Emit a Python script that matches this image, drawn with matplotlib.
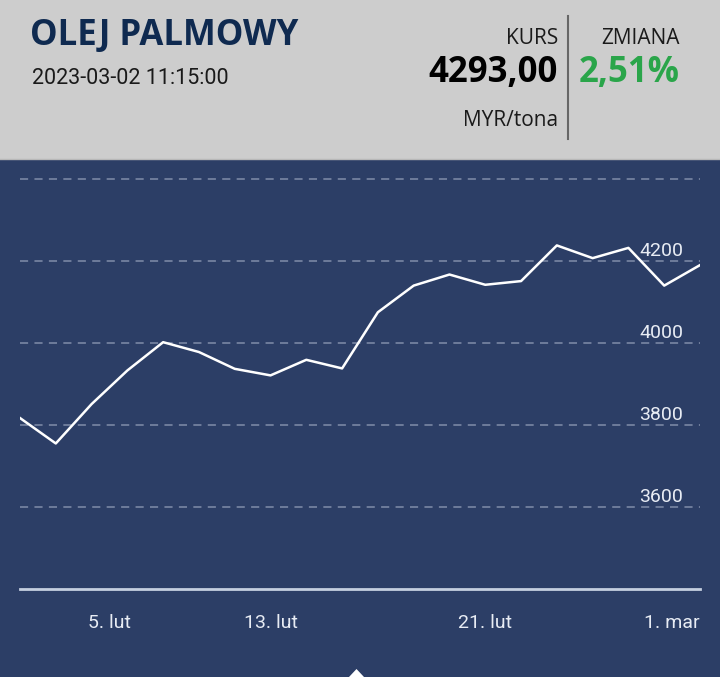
import matplotlib.pyplot as plt
from matplotlib.patches import Rectangle, Polygon

# notowania oleju palmowego (MYR/tona), kolejne sesje od 2 lut do 1 mar
prices = [3817, 3755, 3851, 3933, 4002, 3978, 3937, 3921, 3959, 3938,
          4075, 4140, 4167, 4142, 4151, 4238, 4207, 4232, 4140, 4190]
tick_pos = [2.5, 7, 13, 19]
tick_labels = ["5. lut", "13. lut", "21. lut", "1. mar"]
grid_levels = [3600, 3800, 4000, 4200, 4400]

NAVY = "#2c3e66"
HEADER = "#cdcdcd"

plt.rcParams["font.family"] = ["Roboto", "DejaVu Sans"]

W, H = 720, 677
fig = plt.figure(figsize=(W / 100, H / 100), dpi=100)
fig.patch.set_facecolor(NAVY)

# naglowek
fig.add_artist(Rectangle((0, 1 - 160 / H), 1, 160 / H, transform=fig.transFigure,
                         facecolor=HEADER, edgecolor="none", zorder=0))
fig.add_artist(plt.Line2D([0, 1], [1 - 159 / H] * 2, transform=fig.transFigure,
                          color="#b8b8b8", lw=1))
fig.add_artist(plt.Line2D([568 / W] * 2, [1 - 16 / H, 1 - 139 / H], transform=fig.transFigure,
                          color="#666666", lw=1.5))

fig.text(30 / W, 1 - 36 / H, "OLEJ PALMOWY", fontsize=25, fontweight="bold",
         family="Open Sans", color="#0f2a50", va="center", ha="left")
fig.text(32 / W, 1 - 78 / H, "2023-03-02 11:15:00", fontsize=15.5, color="#1a1a1a",
         va="center", ha="left")
fig.text(558 / W, 1 - 38 / H, "KURS", fontsize=15, family="Open Sans",
         color="#1a1a1a", va="center", ha="right")
fig.text(558 / W, 1 - 73 / H, "4293,00", fontsize=25, fontweight="bold",
         family="Open Sans", color="#000000", va="center", ha="right")
fig.text(558 / W, 1 - 121 / H, "MYR/tona", fontsize=15, family="Open Sans",
         color="#1a1a1a", va="center", ha="right")
fig.text(680 / W, 1 - 38 / H, "ZMIANA", fontsize=15, family="Open Sans",
         color="#1a1a1a", va="center", ha="right")
fig.text(680 / W, 1 - 73 / H, "2,51%", fontsize=25, fontweight="bold",
         family="Open Sans", color="#2aa54a", va="center", ha="right")

# wykres
ax = fig.add_axes([20 / W, 1 - 589 / H, 680 / W, 410 / H])
ax.set_facecolor(NAVY)
ax.set_xlim(0, len(prices) - 1)
ax.set_ylim(3400, 4400)
for s in ax.spines.values():
    s.set_visible(False)

for lvl in grid_levels:
    ax.axhline(lvl, color="#74819f", lw=1.3, ls=(0, (4.5, 3.5)), clip_on=False, zorder=1)
    if lvl < 4400:
        ax.text(0.975, lvl + 25, str(lvl), transform=ax.get_yaxis_transform(),
                ha="right", va="center", fontsize=14, color="#e8ecf4")
ax.axhline(3400, color="#c5cfe0", lw=2, clip_on=False, zorder=2)

ax.plot(range(len(prices)), prices, color="white", lw=1.8, zorder=3)

ax.set_yticks([])
ax.set_xticks(tick_pos)
ax.set_xticklabels(tick_labels, fontsize=14, color="#e8ecf4")
ax.tick_params(axis="x", length=0, pad=18)
ax.get_xticklabels()[-1].set_ha("right")

# znacznik na dole
fig.add_artist(Polygon([(349 / W, 0), (364 / W, 0), (356.5 / W, 8 / H)], closed=True,
                       transform=fig.transFigure, facecolor="white", edgecolor="none"))

plt.savefig("out.png", dpi=100, facecolor=fig.get_facecolor())
